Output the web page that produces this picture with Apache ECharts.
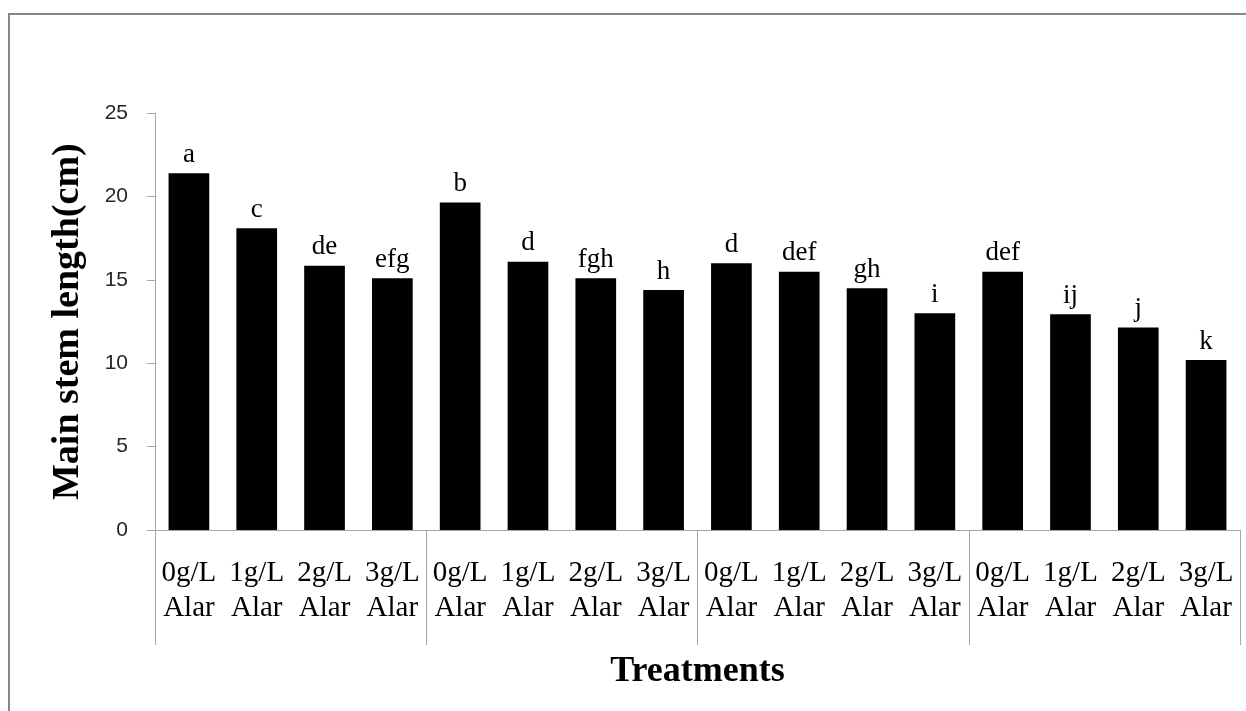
<!DOCTYPE html>
<html>
<head>
<meta charset="utf-8">
<script src="https://cdn.jsdelivr.net/npm/echarts@6/dist/echarts.min.js"></script>
<style>
  html, body { margin: 0; padding: 0; background: #fff; }
  #chart { width: 1246px; height: 711px; }
</style>
</head>
<body>
<div id="chart"></div>
<script>
// data
const treatments = [
  '0g/L\nAlar', '1g/L\nAlar', '2g/L\nAlar', '3g/L\nAlar',
  '0g/L\nAlar', '1g/L\nAlar', '2g/L\nAlar', '3g/L\nAlar',
  '0g/L\nAlar', '1g/L\nAlar', '2g/L\nAlar', '3g/L\nAlar',
  '0g/L\nAlar', '1g/L\nAlar', '2g/L\nAlar', '3g/L\nAlar'
];
const groups = ['G1', 'G2', 'G3', 'G4'];
const stemLength = [21.4, 18.1, 15.85, 15.1, 19.65, 16.1, 15.1, 14.4,
                    16.0, 15.5, 14.5, 13.0, 15.5, 12.95, 12.15, 10.2];
const letters = ['a', 'c', 'de', 'efg', 'b', 'd', 'fgh', 'h',
                 'd', 'def', 'gh', 'i', 'def', 'ij', 'j', 'k'];

const serif = '"Liberation Serif", "DejaVu Serif", serif';
const axisGray = '#a6a6a6';

const chart = echarts.init(document.getElementById('chart'));

const option = {
  animation: false,
  backgroundColor: '#fff',
  graphic: [{
    type: 'rect',
    shape: { x: 9, y: 14, width: 1400, height: 900 },
    style: { fill: 'none', stroke: '#878787', lineWidth: 2 }
  }],
  grid: { left: 155, right: 6, top: 113.3, bottom: 181 },
  xAxis: [{
    type: 'category',
    data: treatments,
    name: 'Treatments',
    nameLocation: 'middle',
    nameGap: 124,
    nameTextStyle: { fontFamily: serif, fontWeight: 'bold', fontSize: 36, color: '#000' },
    axisLine: { show: false },
    axisTick: { show: false },
    axisLabel: {
      interval: 0,
      margin: 26,
      fontFamily: serif,
      fontSize: 29,
      lineHeight: 35,
      color: '#000'
    }
  }, {
    // group separators
    type: 'category',
    data: groups,
    position: 'bottom',
    axisLine: { show: true, lineStyle: { color: axisGray, width: 1 } },
    axisTick: { show: true, length: 115, lineStyle: { color: axisGray, width: 1 } },
    axisLabel: { show: false }
  }],
  yAxis: {
    type: 'value',
    min: 0,
    max: 25,
    interval: 5,
    name: 'Main stem length(cm)',
    nameLocation: 'middle',
    nameGap: 68,
    nameTextStyle: { fontFamily: serif, fontWeight: 'bold', fontSize: 38, color: '#000' },
    axisLine: { show: true, lineStyle: { color: axisGray } },
    axisTick: { show: true, length: 8, lineStyle: { color: axisGray } },
    splitLine: { show: false },
    axisLabel: {
      margin: 27,
      fontFamily: '"Liberation Sans", Arial, sans-serif',
      fontSize: 21,
      color: '#262626'
    }
  },
  series: [{
    type: 'bar',
    xAxisIndex: 0,
    data: stemLength,
    barWidth: '60%',
    itemStyle: { color: '#000' },
    label: {
      show: true,
      position: 'top',
      distance: 5,
      fontFamily: serif,
      fontSize: 27,
      color: '#000',
      formatter: p => letters[p.dataIndex]
    }
  }]
};

chart.setOption(option);
</script>
</body>
</html>
